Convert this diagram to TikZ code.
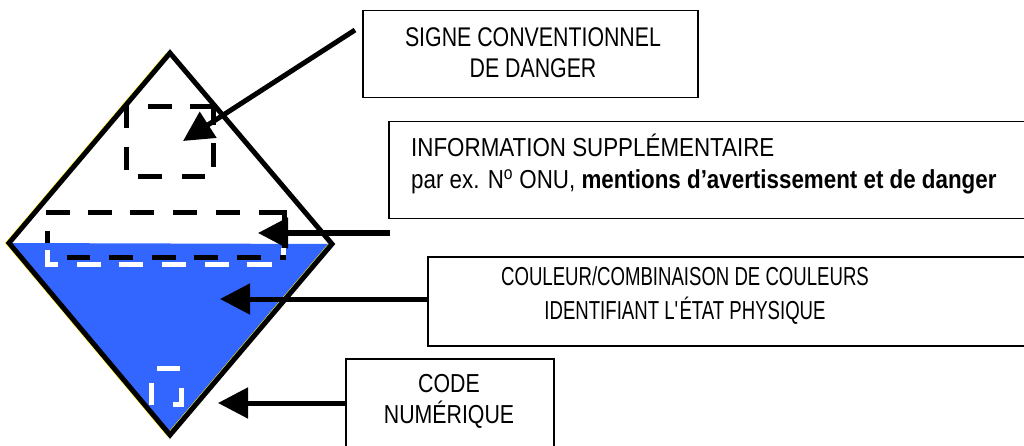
\documentclass[tikz,border=0pt]{standalone}
\usepackage{fontspec}
\setmainfont[FakeStretch=0.82]{Liberation Sans}
\newfontfamily\fsigne[FakeStretch=0.79]{Liberation Sans}
\newfontfamily\finfo[FakeStretch=0.86]{Liberation Sans}
\newfontfamily\fcoul[FakeStretch=0.715]{Liberation Sans}
\newfontfamily\fcode[FakeStretch=0.82]{Liberation Sans}
\usetikzlibrary{arrows.meta}
\definecolor{fillblue}{RGB}{51,102,255}
\begin{document}
\begin{tikzpicture}[x=1pt,y=-1pt,
  frame/.style={draw=black, line width=1.5pt, fill=white, inner sep=0pt, anchor=north west},
  pointer/.style={line width=5pt, -{Triangle[length=30pt,width=30pt]}},
  outline/.style={line width=5pt, line join=miter, black},
  bdash/.style={line width=5pt, black, line cap=butt},
  wdash/.style={line width=5pt, white, line cap=butt},
  lbl/.style={anchor=base, inner sep=0pt},
  tsigne/.style={lbl, font=\fsigne\fontsize{27}{30}\selectfont},
  tinfo/.style={lbl, anchor=base west, font=\finfo\fontsize{26}{30}\selectfont},
  tcoul/.style={lbl, font=\fcoul\fontsize{26}{30}\selectfont},
  tcode/.style={lbl, font=\fcode\fontsize{26}{30}\selectfont}]
\useasboundingbox (0,0) rectangle (1024,446);
\fill[white] (0,0) rectangle (1024,446);

% placard
\fill[fillblue] (9,243) -- (332,244) -- (170,435) -- cycle;
\draw[yellow, line width=1.5pt] (167,53) -- (6,243) -- (167,435) -- (329,244);
\draw[outline] (170,53) -- (332,244) -- (170,435) -- (9,243) -- cycle;

% dashed frame: symbol
\draw[bdash] (148,107) -- (172,107);
\draw[bdash] (190,107) -- (213,107) -- (213,125);
\draw[bdash] (213,143) -- (213,167);
\draw[bdash] (126,105) -- (126,128);
\draw[bdash] (126,147) -- (126,170);
\draw[bdash] (138,177) -- (162,177);
\draw[bdash] (182,177) -- (205,177);

% dashed frame: supplementary information
\foreach \a/\b in {46/70,88/112,130/154,173/197,216/240}
  \draw[bdash] (\a,213) -- (\b,213);
\draw[bdash] (259,213) -- (284,213) -- (284,248);
\draw[bdash] (47,231) -- (47,243);
\foreach \a/\b in {67/90,109/133,152/176,194/218,237/261,280/286}
  \draw[bdash] (\a,257) -- (\b,257);
\draw[wdash] (47,250) -- (47,264) -- (58,264);
\foreach \a/\b in {77/101,119/143,162/186,205/229,247/272}
  \draw[wdash] (\a,264) -- (\b,264);
\draw[wdash] (283,248) -- (283,255);

% dashed frame: numeric code
\draw[wdash] (157,368) -- (180,368);
\draw[wdash] (151,383) -- (151,405);
\draw[wdash] (181,388) -- (181,404) -- (173,404);

% boxes
\node[frame, minimum width=335pt, minimum height=87pt] (signe) at (362,10) {};
\node[frame, minimum width=700pt, minimum height=97pt] (info) at (388,121) {};
\node[frame, minimum width=700pt, minimum height=89pt] (couleur) at (427,256) {};
\node[frame, minimum width=208pt, minimum height=120pt] (code) at (345,358) {};

% texts
\node[tsigne] (t1a) at (533,47) {SIGNE CONVENTIONNEL};
\node[tsigne] (t1b) at (533,78) {DE DANGER};
\node[tinfo] (t2a) at (411,157) {INFORMATION SUPPLÉMENTAIRE};
\node[tinfo] (t2b) at (411,189) {par ex. N\textsuperscript{o} ONU, \textbf{mentions d’avertissement et de danger}};
\node[tcoul] (t3a) at (685,285) {COULEUR/COMBINAISON DE COULEURS};
\node[tcoul] (t3b) at (685,319) {IDENTIFIANT L\textquotesingle ÉTAT PHYSIQUE};
\node[tcode] (t4a) at (449,392) {CODE};
\node[tcode] (t4b) at (449,423) {NUMÉRIQUE};

% connectors
\coordinate (p1) at (355,30);
\coordinate (q1) at (183,141);
\coordinate (p2) at (390,233);
\coordinate (q2) at (258,233);
\coordinate (q3) at (220,299);
\coordinate (q4) at (218,403);
\draw[pointer] (p1) -- (q1);
\draw[pointer] (p2) -- (q2);
\draw[pointer] (couleur.west |- q3) -- (q3);
\draw[pointer] (code.west |- q4) -- (q4);
\end{tikzpicture}
\end{document}
